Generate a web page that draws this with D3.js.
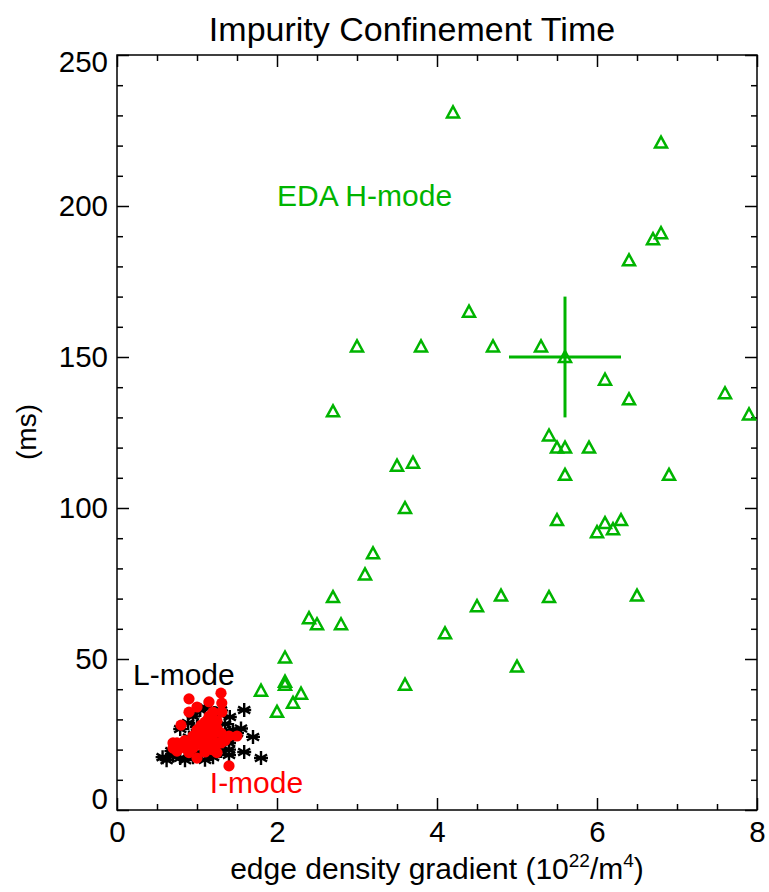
<!doctype html>
<html>

<head>
    <title>Impurity Confinement Time</title>
    <script src="https://d3js.org/d3.v7.min.js"></script>
    <style>
        body {
            margin: 0;
            background: #fff;
        }

        svg text {
            font-family: 'Liberation Sans', Arial, Helvetica, sans-serif;
        }
    </style>
</head>

<body>
    <div id="chart"></div>

    <script>
        // EDA H-mode shots (green triangles)
        var hmodeX = [4.2, 6.8, 6.8, 6.7, 6.4, 4.4, 3.0, 3.8, 4.7, 5.3, 5.6, 6.1, 6.4, 7.6, 7.9, 2.7, 5.4, 5.5, 5.6, 5.9,
            3.5, 3.7, 5.6, 6.9, 3.6, 5.5, 6.1, 6.3, 6.0, 6.2, 3.2, 3.1, 2.7, 4.8, 5.4, 6.5, 4.5, 2.4, 2.5, 2.8,
            4.1, 2.1, 5.0, 2.1, 2.1, 1.8, 2.3, 3.6, 2.2, 2.0];
        var hmodeY = [231, 221, 191, 189, 182, 165, 153.5, 153.5, 153.5, 153.5, 150, 142.5, 136, 138, 131, 132, 124, 120, 120, 120,
            114, 115, 111, 111, 100, 96, 95, 96, 92, 93, 85, 78, 70.5, 71, 70.5, 71, 67.5, 63.5, 61.5, 61.5,
            58.5, 50.5, 47.5, 42.5, 41.5, 39.5, 38.5, 41.5, 35.5, 32.5];

        // L-mode shots (black asterisks)
        var lmodeX = [0.57, 0.62, 0.7, 0.79, 0.85, 0.95, 1.1, 1.2, 1.3, 1.4, 1.59, 1.8, 1.7, 1.5, 1.4, 1.41, 1.59, 0.89, 0.79, 1.04,
            1.21, 1.0, 1.3, 1.35, 0.9, 1.05, 1.15, 0.75, 0.68, 1.0, 1.25, 1.45, 1.55, 0.95, 1.15, 1.3, 1.1, 0.85, 1.4, 1.25];
        var lmodeY = [17.5, 16.5, 18, 17.2, 16.5, 17.5, 16.6, 17.5, 19.5, 18.2, 19.2, 17.2, 24.2, 25.5, 22.2, 30.8, 33.1, 28.8, 26.8, 33.1,
            32.1, 27.5, 26, 28.5, 24, 22, 20, 21, 19.5, 19, 24, 26.5, 27, 31, 29.5, 33, 34, 20.5, 20, 21.5];

        // I-mode shots (red dots)
        var imodeX = [0.9, 1.3, 1.0, 1.15, 1.31, 0.9, 1.31, 1.2, 0.8, 1.1, 1.2, 1.25, 1.15, 1.05, 1.2, 1.1, 0.95, 1.0, 0.85, 0.75,
            0.7, 0.7, 0.75, 0.85, 0.95, 1.05, 1.15, 1.25, 1.3, 1.2, 1.1, 1.0, 1.4, 1.4, 1.5, 1.2, 0.85, 1.0, 1.15, 1.05,
            1.25, 1.3, 0.95, 1.1, 0.8, 1.35, 1.25, 0.9];
        var imodeY = [36.8, 38.7, 34.1, 35.8, 35.4, 32.4, 32.4, 32.4, 28.1, 29.1, 29.1, 27, 26.5, 25.5, 25, 24, 24.5, 23, 23, 22.2,
            22.2, 20.5, 19.5, 20.5, 20.5, 21.5, 22, 22.2, 22.2, 20, 19.2, 17.2, 14.6, 24.5, 24.5, 19.9, 22, 26.5, 31, 28,
            29.5, 25.5, 21.5, 22.5, 21, 23, 19, 19];

        // representative error bar
        var errPoint = [5.6, 150];
        var errX = [4.9, 6.3];
        var errY = [130, 170];

        // axis ticks
        var xMajorTicks = [0, 2, 4, 6, 8];
        var xMinorTicks = [0.5, 1, 1.5, 2.5, 3, 3.5, 4.5, 5, 5.5, 6.5, 7, 7.5];
        var yMajorTicks = [0, 50, 100, 150, 200, 250];
        var yMinorTicks = d3.range(10, 250, 10).filter(function (d) { return d % 50 != 0; });

        // text labels placed in data units
        var labelText = ["EDA H-mode", "L-mode", "I-mode"];
        var labelX = [2.0, 0.2, 1.16];
        var labelY = [200, 41.5, 5.6];
        var labelColor = ["#00b400", "#000000", "#ff0000"];

        var green = "#00b400";
        var width = 769,
            height = 892;

        var svg = d3.select("#chart")
            .append("svg")
            .attr("width", width)
            .attr("height", height)
            .style("background", "#fff");

        var x = d3.scaleLinear().domain([0, 8]).range([117, 757]);
        var y = d3.scaleLinear().domain([0, 250]).range([810, 55]);

        // axes, ticks pointing inward on every side
        function styleAxis(g) {
            g.select(".domain").remove();
            g.selectAll(".tick line").attr("stroke", "#000").attr("stroke-width", 1.5);
            g.selectAll(".tick text").attr("fill", "#000").style("font-size", "29.5px");
        }

        svg.append("g")
            .attr("transform", "translate(0," + y(0) + ")")
            .call(d3.axisBottom(x).tickValues(xMajorTicks).tickSize(-12).tickPadding(11).tickFormat(d3.format("d")))
            .call(styleAxis);
        svg.append("g")
            .attr("transform", "translate(0," + y(0) + ")")
            .call(d3.axisBottom(x).tickValues(xMinorTicks).tickSize(-6).tickFormat(""))
            .call(styleAxis);
        svg.append("g")
            .attr("transform", "translate(0," + y(250) + ")")
            .call(d3.axisTop(x).tickValues(xMajorTicks).tickSize(-12).tickFormat(""))
            .call(styleAxis);
        svg.append("g")
            .attr("transform", "translate(0," + y(250) + ")")
            .call(d3.axisTop(x).tickValues(xMinorTicks).tickSize(-6).tickFormat(""))
            .call(styleAxis);

        var yAxis = svg.append("g")
            .attr("transform", "translate(" + x(0) + ",0)")
            .call(d3.axisLeft(y).tickValues(yMajorTicks).tickSize(-12).tickPadding(9).tickFormat(d3.format("d")))
            .call(styleAxis);
        svg.append("g")
            .attr("transform", "translate(" + x(0) + ",0)")
            .call(d3.axisLeft(y).tickValues(yMinorTicks).tickSize(-6).tickFormat(""))
            .call(styleAxis);
        svg.append("g")
            .attr("transform", "translate(" + x(8) + ",0)")
            .call(d3.axisRight(y).tickValues(yMajorTicks).tickSize(-12).tickFormat(""))
            .call(styleAxis);
        svg.append("g")
            .attr("transform", "translate(" + x(8) + ",0)")
            .call(d3.axisRight(y).tickValues(yMinorTicks).tickSize(-6).tickFormat(""))
            .call(styleAxis);

        // the end labels sit a little inside the frame
        yAxis.selectAll(".tick text")
            .attr("dy", function (d) {
                if (d == 0) return "-0.05em";
                if (d == 250) return "0.55em";
                return "0.32em";
            });

        // frame
        svg.append("rect")
            .attr("x", x(0))
            .attr("y", y(250))
            .attr("width", x(8) - x(0))
            .attr("height", y(0) - y(250))
            .attr("fill", "none")
            .attr("stroke", "#000")
            .attr("stroke-width", 1.5);

        // L-mode asterisks
        var star = svg.append("g").attr("stroke", "#000").attr("stroke-width", 2.4);
        d3.range(lmodeX.length).forEach(function (i) {
            var cx = x(lmodeX[i]),
                cy = y(lmodeY[i]),
                r = 7;
            var p = "";
            [0, 60, 120].forEach(function (a) {
                var dx = r * Math.sin(a * Math.PI / 180),
                    dy = r * Math.cos(a * Math.PI / 180);
                p += "M" + (cx - dx) + "," + (cy - dy) + "L" + (cx + dx) + "," + (cy + dy);
            });
            p += "M" + (cx - r) + "," + cy + "L" + (cx + r) + "," + cy;
            star.append("path").attr("d", p);
        });

        // I-mode dots
        svg.append("g")
            .selectAll("circle")
            .data(d3.range(imodeX.length))
            .enter()
            .append("circle")
            .attr("cx", function (i) { return x(imodeX[i]); })
            .attr("cy", function (i) { return y(imodeY[i]); })
            .attr("r", 5.6)
            .attr("fill", "#ff0000");

        // H-mode triangles
        svg.append("g")
            .selectAll("path")
            .data(d3.range(hmodeX.length))
            .enter()
            .append("path")
            .attr("d", function (i) {
                var cx = x(hmodeX[i]),
                    cy = y(hmodeY[i]);
                return "M" + (cx - 6) + "," + (cy + 5) + "L" + (cx + 6) + "," + (cy + 5) + "L" + cx + "," + (cy - 6) + "Z";
            })
            .attr("fill", "none")
            .attr("stroke", green)
            .attr("stroke-width", 2.5);

        // error bar cross
        svg.append("line")
            .attr("x1", x(errX[0])).attr("x2", x(errX[1]))
            .attr("y1", y(errPoint[1])).attr("y2", y(errPoint[1]))
            .attr("stroke", green).attr("stroke-width", 3);
        svg.append("line")
            .attr("x1", x(errPoint[0])).attr("x2", x(errPoint[0]))
            .attr("y1", y(errY[0])).attr("y2", y(errY[1]))
            .attr("stroke", green).attr("stroke-width", 3);

        // mode labels
        svg.append("g")
            .selectAll("text")
            .data(d3.range(labelText.length))
            .enter()
            .append("text")
            .attr("x", function (i) { return x(labelX[i]); })
            .attr("y", function (i) { return y(labelY[i]); })
            .attr("fill", function (i) { return labelColor[i]; })
            .style("font-size", "30px")
            .text(function (i) { return labelText[i]; });

        // title and axis titles
        svg.append("text")
            .attr("x", 412)
            .attr("y", 41)
            .attr("text-anchor", "middle")
            .style("font-size", "34px")
            .text("Impurity Confinement Time");

        var xt = svg.append("text")
            .attr("x", (x(0) + x(8)) / 2)
            .attr("y", 879)
            .attr("text-anchor", "middle")
            .style("font-size", "30px");
        xt.append("tspan").text("edge density gradient (10");
        xt.append("tspan").attr("dy", -12).style("font-size", "19px").text("22");
        xt.append("tspan").attr("dy", 12).text("/m");
        xt.append("tspan").attr("dy", -12).style("font-size", "19px").text("4");
        xt.append("tspan").attr("dy", 12).text(")");

        svg.append("text")
            .attr("transform", "translate(36,432) rotate(-90)")
            .attr("text-anchor", "middle")
            .style("font-size", "28px")
            .text("(ms)");
    </script>

</body>

</html>
